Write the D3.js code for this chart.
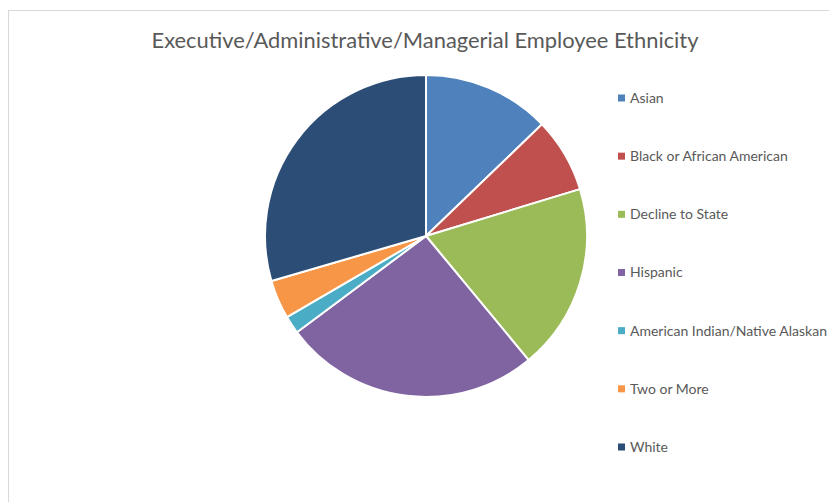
<!DOCTYPE html>
<html>
<head>
<meta charset="utf-8">
<script src="https://cdn.jsdelivr.net/npm/d3@7"></script>
<style>
  html, body { margin: 0; padding: 0; background: #fff; }
  svg { display: block; }
</style>
</head>
<body>
<svg id="chart" width="829" height="502"></svg>
<script>
// Ethnicity categories and their shares (percent)
const categories = [
  "Asian",
  "Black or African American",
  "Decline to State",
  "Hispanic",
  "American Indian/Native Alaskan",
  "Two or More",
  "White"
];
const values = [12.8, 7.5, 18.7, 25.8, 1.8, 3.9, 29.5];
const colors = ["#4F81BD", "#C0504D", "#9BBB59", "#8064A2", "#4BACC6", "#F79646", "#2C4D75"];
const title = "Executive/Administrative/Managerial Employee Ethnicity";

const svg = d3.select("#chart");
const W = 829, H = 502;

// chart area frame
svg.append("rect")
  .attr("x", 8.5).attr("y", 10.5)
  .attr("width", W + 10).attr("height", H + 10)
  .attr("fill", "#fff")
  .attr("stroke", "#d9d9d9")
  .attr("stroke-width", 1);

// title
svg.append("text")
  .attr("x", 425).attr("y", 48)
  .attr("text-anchor", "middle")
  .attr("font-family", "Lato, 'Open Sans', sans-serif")
  .attr("font-size", 21.9)
  .attr("fill", "#595959")
  .text(title);

// pie
const cx = 426, cy = 236, r = 161;
const pie = d3.pie().sort(null).value(d => d.v);
const arc = d3.arc().innerRadius(0).outerRadius(r);
const data = categories.map((c, i) => ({ c, v: values[i], col: colors[i] }));

svg.append("g")
  .attr("transform", `translate(${cx},${cy})`)
  .selectAll("path")
  .data(pie(data))
  .join("path")
  .attr("d", arc)
  .attr("fill", d => d.data.col)
  .attr("stroke", "#fff")
  .attr("stroke-width", 2)
  .attr("stroke-linejoin", "round");

// legend
const legendY = d3.scalePoint().domain(categories).range([98, 447]);
const lg = svg.append("g");
const items = lg.selectAll("g").data(data).join("g")
  .attr("transform", d => `translate(618,${legendY(d.c)})`);
items.append("rect")
  .attr("x", 0).attr("y", -3.5)
  .attr("width", 7).attr("height", 7)
  .attr("fill", d => d.col);
items.append("text")
  .attr("x", 12).attr("y", 0)
  .attr("dy", "0.35em")
  .attr("font-family", "Lato, 'Open Sans', sans-serif")
  .attr("font-size", 14)
  .attr("fill", "#595959")
  .text(d => d.c);
</script>
</body>
</html>
